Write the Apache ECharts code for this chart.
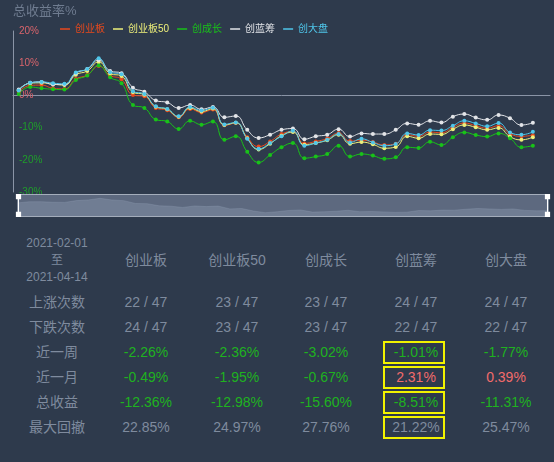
<!DOCTYPE html>
<html>
<head>
<meta charset="utf-8">
<script src="https://cdn.jsdelivr.net/npm/echarts@6/dist/echarts.min.js"></script>
<style>
  html, body { margin: 0; padding: 0; background: #2e3a4c; }
  #wrap { position: relative; width: 554px; height: 462px; overflow: hidden; background: #2e3a4c;
          font-family: "Liberation Sans", "Noto Sans CJK SC", sans-serif; }
  #chart { position: absolute; left: 0; top: 0; width: 554px; height: 232px; }
  .cell { position: absolute; transform: translate(-50%, -50%); white-space: nowrap;
          font-size: 14px; line-height: 1; color: #7f8b9e; }
  .box { position: absolute; border: 2px solid #f2f200; box-sizing: border-box; }
</style>
</head>
<body>
<div id="wrap"><div id="chart"></div></div>
<script>
// Trading days in the period
const dates = [
  '2021-02-01','2021-02-02','2021-02-03','2021-02-04','2021-02-05','2021-02-08','2021-02-09','2021-02-10',
  '2021-02-18','2021-02-19','2021-02-22','2021-02-23','2021-02-24','2021-02-25','2021-02-26',
  '2021-03-01','2021-03-02','2021-03-03','2021-03-04','2021-03-05','2021-03-08','2021-03-09','2021-03-10',
  '2021-03-11','2021-03-12','2021-03-15','2021-03-16','2021-03-17','2021-03-18','2021-03-19','2021-03-22',
  '2021-03-23','2021-03-24','2021-03-25','2021-03-26','2021-03-29','2021-03-30','2021-03-31',
  '2021-04-01','2021-04-02','2021-04-06','2021-04-07','2021-04-08','2021-04-09','2021-04-12','2021-04-13','2021-04-14'
];

const seriesNames = ['创业板', '创业板50', '创成长', '创蓝筹', '创大盘'];
const seriesColors = ['#e8491d', '#eef07a', '#19c219', '#e2e4e8', '#4fc6ea'];

// Cumulative return, %
const chinext = [1.1, 3.1, 3.2, 2.2, 2.0, 5.1, 6.3, 9.1, 6.2, 5.0, 0.1, -0.3, -3.9, -4.6, -6.8, -4.2,
  -5.3, -4.4, -9.3, -8.6, -13.0, -15.9, -14.3, -12.0, -11.2, -14.9, -14.3, -13.4, -11.7, -14.2, -13.9,
  -14.5, -15.4, -15.0, -12.2, -12.7, -11.4, -11.6, -9.9, -8.6, -9.4, -10.2, -9.4, -11.9, -12.7, -12.36];
const chinext50 = [1.6, 3.8, 3.9, 3.5, 3.2, 6.4, 7.6, 10.4, 6.8, 6.0, 1.0, 0.2, -3.5, -4.3, -6.6, -3.9,
  -5.0, -4.1, -9.2, -8.5, -13.3, -16.8, -15.0, -12.5, -11.4, -15.3, -14.8, -13.9, -12.2, -15.0, -14.5,
  -15.2, -16.4, -16.0, -12.7, -13.3, -12.0, -12.1, -10.5, -9.2, -9.9, -10.7, -10.1, -12.8, -13.8, -12.98];
const growth = [0.4, 2.6, 2.2, 1.9, 1.8, 4.8, 6.2, 9.3, 5.6, 3.8, -3.0, -3.9, -7.5, -8.1, -10.4, -7.9,
  -9.1, -8.1, -13.8, -12.7, -17.5, -20.8, -18.5, -16.1, -14.8, -19.5, -19.0, -18.2, -15.6, -19.0, -18.2,
  -18.7, -19.7, -19.2, -16.1, -16.3, -14.4, -15.4, -13.0, -11.5, -12.3, -12.8, -11.8, -13.3, -16.1, -15.60];
const bluechip = [1.8, 3.9, 4.2, 3.4, 3.4, 6.9, 8.2, 11.0, 7.6, 6.9, 2.4, 1.1, -1.6, -2.2, -3.9, -3.0,
  -4.3, -3.6, -6.8, -6.4, -10.7, -13.2, -12.2, -10.7, -10.3, -13.6, -12.7, -12.2, -10.5, -12.8, -11.8,
  -12.0, -12.0, -10.7, -8.7, -9.1, -7.9, -8.4, -6.6, -5.8, -6.9, -7.6, -6.1, -7.1, -9.2, -8.51];
const largecap = [1.5, 3.9, 4.2, 3.8, 3.6, 7.1, 8.2, 11.5, 7.2, 6.6, 1.3, 0.4, -3.4, -4.2, -6.5, -3.6,
  -4.7, -3.8, -9.0, -8.4, -13.5, -16.6, -14.8, -12.7, -11.0, -15.6, -14.8, -13.8, -12.0, -14.6, -13.5,
  -14.6, -15.6, -15.1, -11.8, -12.3, -10.8, -10.9, -9.4, -7.9, -8.7, -9.6, -8.6, -11.5, -12.2, -11.31];
const seriesData = [chinext, chinext50, growth, bluechip, largecap];

// Value axis range, %
const yMin = -30, yMax = 20, yStep = 10;

// Summary table
const periodStart = '2021-02-01';
const periodEnd = '2021-04-14';
const totalDays = 47;
const upDays = [22, 23, 23, 24, 24];
const downDays = [24, 23, 23, 22, 22];
const weekReturn = [-2.26, -2.36, -3.02, -1.01, -1.77];
const monthReturn = [-0.49, -1.95, -0.67, 2.31, 0.39];
const totalReturn = [-12.36, -12.98, -15.60, -8.51, -11.31];
const maxDrawdown = [22.85, 24.97, 27.76, 21.22, 25.47];
const rowLabels = ['上涨次数', '下跌次数', '近一周', '近一月', '总收益', '最大回撤'];
const markedColumn = 3;           // 创蓝筹
const markedRows = [2, 3, 4, 5];

const FONT = 'Liberation Sans, Noto Sans CJK SC, sans-serif';
const AXIS_GRAY = '#8a94a6';

const chart = echarts.init(document.getElementById('chart'), null, { renderer: 'canvas' });
chart.setOption({
  backgroundColor: '#2e3a4c',
  animation: false,
  textStyle: { fontFamily: FONT },
  title: {
    text: '总收益率%', left: 13, top: 5, padding: 0,
    textStyle: { color: '#6f7c90', fontSize: 13, fontWeight: 'normal', fontFamily: FONT }
  },
  legend: {
    left: 60, top: 24, padding: 0, itemGap: 8,
    icon: 'rect', itemWidth: 10, itemHeight: 1.5,
    textStyle: { fontSize: 10, fontFamily: FONT },
    data: seriesNames.map((n, k) => ({ name: n, textStyle: { color: seriesColors[k] } }))
  },
  grid: { left: 13, top: 31, width: 537, height: 161, containLabel: false },
  xAxis: {
    type: 'category', data: dates, boundaryGap: true,
    axisLine: { onZero: true, lineStyle: { color: AXIS_GRAY, width: 1 } },
    axisTick: { alignWithLabel: true, length: 4, interval: (i) => i % 6 === 3,
                lineStyle: { color: AXIS_GRAY } },
    axisLabel: { show: false },
    splitLine: { show: false }
  },
  yAxis: {
    type: 'value', min: yMin, max: yMax, interval: yStep,
    axisLine: { show: true, lineStyle: { color: AXIS_GRAY, width: 1 } },
    axisTick: { show: false },
    splitLine: { show: false },
    axisLabel: {
      inside: true, margin: 6, fontSize: 10, fontFamily: FONT,
      formatter: '{value}%',
      color: (v) => (Number(v) >= 0 ? '#d9646c' : '#1f9e2a')
    }
  },
  dataZoom: [{
    type: 'slider', xAxisIndex: 0, left: 15, right: 8, top: 194, height: 23,
    start: 0, end: 100, showDetail: false, brushSelect: false,
    moveHandleSize: 0, borderRadius: 0,
    borderColor: '#a4adbb', backgroundColor: 'rgba(0,0,0,0)',
    fillerColor: 'rgba(150,165,190,0.45)',
    handleIcon: 'path://M0,0H5V5H0Z M2,5H3V17H2Z M0,17H5V22H0Z',
    handleSize: '100%',
    handleStyle: { color: '#ffffff', borderColor: '#ffffff', borderWidth: 0 },
    dataBackground: { lineStyle: { width: 0.5, color: '#95a1b5', opacity: 0.6 },
                      areaStyle: { color: '#a3aec0', opacity: 0.3 } },
    selectedDataBackground: { lineStyle: { width: 0.5, color: '#95a1b5', opacity: 0.6 },
                              areaStyle: { color: '#a3aec0', opacity: 0.3 } }
  }],
  series: seriesNames.map((name, k) => ({
    name, type: 'line', data: seriesData[k], smooth: true,
    symbol: 'circle', symbolSize: 4, showAllSymbol: true,
    lineStyle: { width: 1, color: seriesColors[k] },
    itemStyle: { color: seriesColors[k] }
  }))
});

// Summary table under the chart
const wrap = document.getElementById('wrap');
const colX = [57, 146, 237, 326, 416, 506];
const headerY = 260;
const rowY0 = 302, rowStep = 25;
const GRAY = '#7f8b9e', GREEN = '#1fb21f', RED = '#f26b6b';

function addCell(text, x, y, color, size) {
  const d = document.createElement('div');
  d.className = 'cell';
  d.textContent = text;
  d.style.left = x + 'px';
  d.style.top = y + 'px';
  d.style.color = color || GRAY;
  if (size) d.style.fontSize = size + 'px';
  wrap.appendChild(d);
}
const pct = (v) => v.toFixed(2) + '%';
const signColor = (v) => (v > 0 ? RED : v < 0 ? GREEN : GRAY);

addCell(periodStart, colX[0], headerY - 17, GRAY, 12);
addCell('至', colX[0], headerY, GRAY, 12);
addCell(periodEnd, colX[0], headerY + 17, GRAY, 12);
seriesNames.forEach((n, k) => addCell(n, colX[k + 1], headerY, GRAY));

const rows = [
  upDays.map((v) => [v + ' / ' + totalDays, GRAY]),
  downDays.map((v) => [v + ' / ' + totalDays, GRAY]),
  weekReturn.map((v) => [pct(v), signColor(v)]),
  monthReturn.map((v) => [pct(v), signColor(v)]),
  totalReturn.map((v) => [pct(v), signColor(v)]),
  maxDrawdown.map((v) => [pct(v), GRAY])
];
rows.forEach((cells, r) => {
  const y = rowY0 + r * rowStep;
  addCell(rowLabels[r], colX[0], y, GRAY);
  cells.forEach(([t, c], k) => addCell(t, colX[k + 1], y, c));
});

markedRows.forEach((r) => {
  const b = document.createElement('div');
  b.className = 'box';
  const w = 62, h = 23;
  b.style.left = (colX[markedColumn + 1] - 2 - w / 2) + 'px';
  b.style.top = (rowY0 + r * rowStep - h / 2) + 'px';
  b.style.width = w + 'px';
  b.style.height = h + 'px';
  wrap.appendChild(b);
});
</script>
</body>
</html>
